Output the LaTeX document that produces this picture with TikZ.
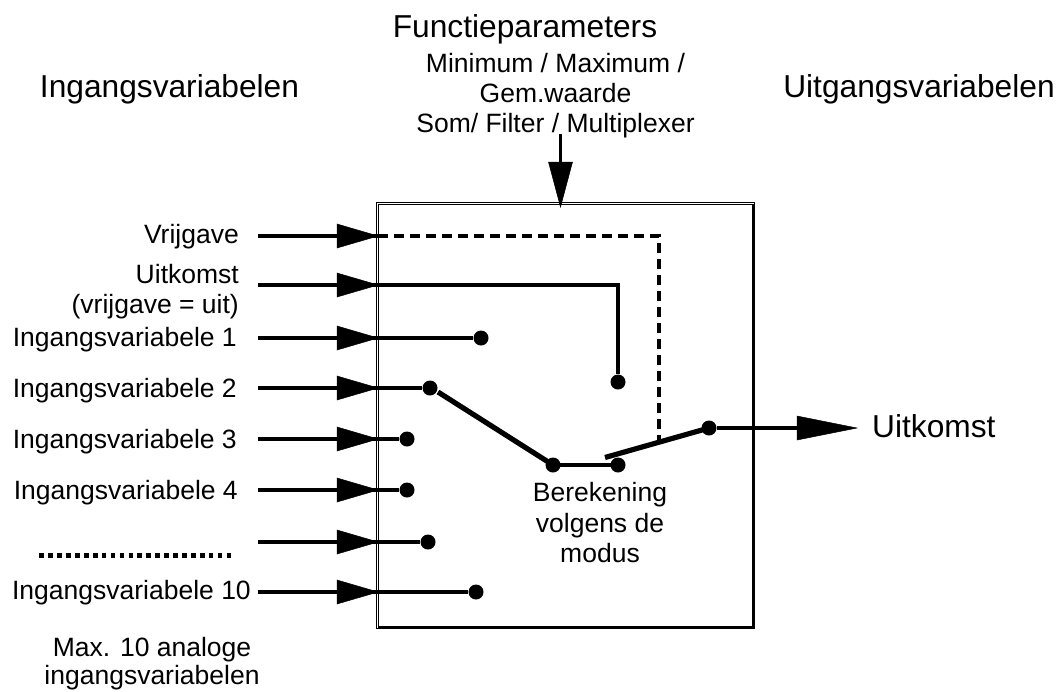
\documentclass[tikz,border=0pt]{standalone}
\usepackage{fontspec}
\setmainfont{Liberation Sans}
\begin{document}
\begin{tikzpicture}[x=1pt,y=-1pt,
 wire/.style={line width=3.2pt},
 lever/.style={line width=5.2pt},
 tri/.style={fill=black,draw=black,line width=0.5pt,line join=miter},
 lab/.style={inner sep=0,align=center,font=\fontsize{26.5}{30}\selectfont},
 big/.style={inner sep=0,font=\fontsize{31.7}{36}\selectfont},
 dot/.style={circle,fill=black,inner sep=0,minimum size=15pt},
 boxframe/.style={draw,line width=1.3pt,inner sep=0,outer sep=0,anchor=north west}]
\useasboundingbox (0,0) rectangle (1059,691);
\node[boxframe,minimum width=377.8pt,minimum height=425.7pt] (frame) at (376.5,202.7) {};
\node[boxframe,minimum width=374.3pt,minimum height=422.3pt] (frameinner) at (378.7,204.7) {};
\node[big,anchor=base] (tf) at (525,37) {Functieparameters};
\node[big,anchor=base] (ti) at (169.5,97) {Ingangsvariabelen};
\node[big,anchor=base] (tu) at (919,97) {Uitgangsvariabelen};
\node[lab] (mode) at (555.5,95.2) {Minimum / Maximum /\\Gem.waarde\\Som/ Filter / Multiplexer};
\node[lab,anchor=base east] (l0) at (239,243) {Vrijgave};
\node[lab,anchor=east,align=right] (l1) at (239,291.3) {Uitkomst\\(vrijgave = uit)};
\node[lab,anchor=base east] (l2) at (237,346) {Ingangsvariabele 1};
\node[lab,anchor=base east] (l3) at (237,397) {Ingangsvariabele 2};
\node[lab,anchor=base east] (l4) at (237,448) {Ingangsvariabele 3};
\node[lab,anchor=base east] (l5) at (238,499) {Ingangsvariabele 4};
\node[lab,anchor=base east] (l7) at (251,599) {Ingangsvariabele 10};
\node[lab,font=\fontsize{26.5}{27.5}\selectfont] (lmax) at (152,663.5) {Max. 10 analoge\\ingangsvariabelen};
\node[lab,font=\fontsize{26.5}{30.5}\selectfont] (calc) at (600,523) {Berekening\\volgens de\\modus};
\node[big,anchor=base west] (lout) at (872,437) {Uitkomst};
\foreach \n/\y in {0/236,1/285,2/338,3/388,4/439,5/490,6/542,7/592}{
  \coordinate (s\n) at (258,\y);
  \coordinate (a\n) at (378,\y);
  \draw[wire] (s\n) -- (a\n);
  \draw[tri] (337,\y-12) -- (378,\y) -- (337,\y+12) -- cycle;
}
\node[dot] (d2) at (481,338) {};
\node[dot] (d3) at (430,388) {};
\node[dot] (d4) at (407,439) {};
\node[dot] (d5) at (407,490) {};
\node[dot] (d6) at (428,542) {};
\node[dot] (d7) at (476,592) {};
\node[dot] (dr) at (618,382) {};
\node[dot] (cl) at (553,465) {};
\node[dot] (cr) at (618,465) {};
\node[dot] (co) at (709,428) {};
\foreach \n in {2,3,4,5,6,7} \draw[wire] (a\n) -- (d\n);
\draw[wire] (a1) -| (dr);
\draw[wire] (cl.center) -- (cr.center);
\coordinate (ls) at (438,392);
\draw[lever] (ls) -- (cl.center);
\coordinate (lo) at (605,457.5);
\draw[lever] (lo) -- (co.center);
\coordinate (dj) at (659,441);
\draw[wire,dash pattern=on 10pt off 6pt] (a0) -| (dj);
\coordinate (oe) at (797,428);
\draw[wire] (co) -- (oe);
\draw[tri] (797,416) -- (857,428) -- (797,440) -- cycle;
\coordinate (ts) at (560.5,134);
\coordinate (te) at (560.5,165);
\draw[wire] (ts) -- (te);
\draw[tri] (548.5,162) -- (560.5,207) -- (572.5,162) -- cycle;
\coordinate (ds) at (39.3,555.7);
\coordinate (de) at (231,555.7);
\draw[line width=4.7pt,dash pattern=on 4.7pt off 4.22pt] (ds) -- (de);
\end{tikzpicture}
\end{document}
